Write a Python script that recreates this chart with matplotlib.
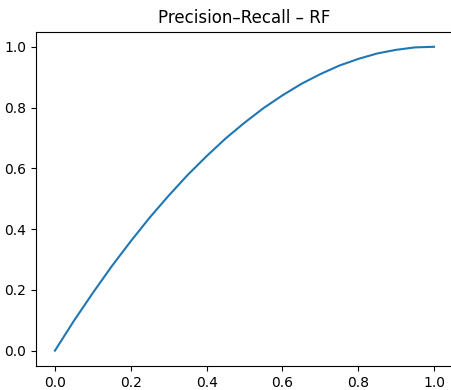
import matplotlib
matplotlib.use('Agg')
import matplotlib.pyplot as plt

# recall / precision points
recall = [0.0, 0.05, 0.1, 0.15, 0.2, 0.25, 0.3, 0.35, 0.4, 0.45, 0.5,
          0.55, 0.6, 0.65, 0.7, 0.725, 0.75, 0.775, 0.8, 0.825, 0.85,
          0.875, 0.9, 0.925, 0.95, 0.975, 1.0]
precision = [0.0, 0.098, 0.19, 0.278, 0.36, 0.438, 0.51, 0.578, 0.64, 0.698, 0.75,
             0.798, 0.84, 0.878, 0.91, 0.924, 0.938, 0.949, 0.96, 0.969, 0.978,
             0.984, 0.99, 0.994, 0.998, 0.999, 1.0]

fig = plt.figure(figsize=(4.51, 3.90), dpi=100)
ax = fig.add_axes([0.0798, 0.062, 0.9246, 0.857])
ax.plot(recall, precision, color='#1f77b4', linewidth=1.5)
ax.set_title('Precision\u2013Recall \u2013 RF')

fig.savefig('out.png', dpi=100)
